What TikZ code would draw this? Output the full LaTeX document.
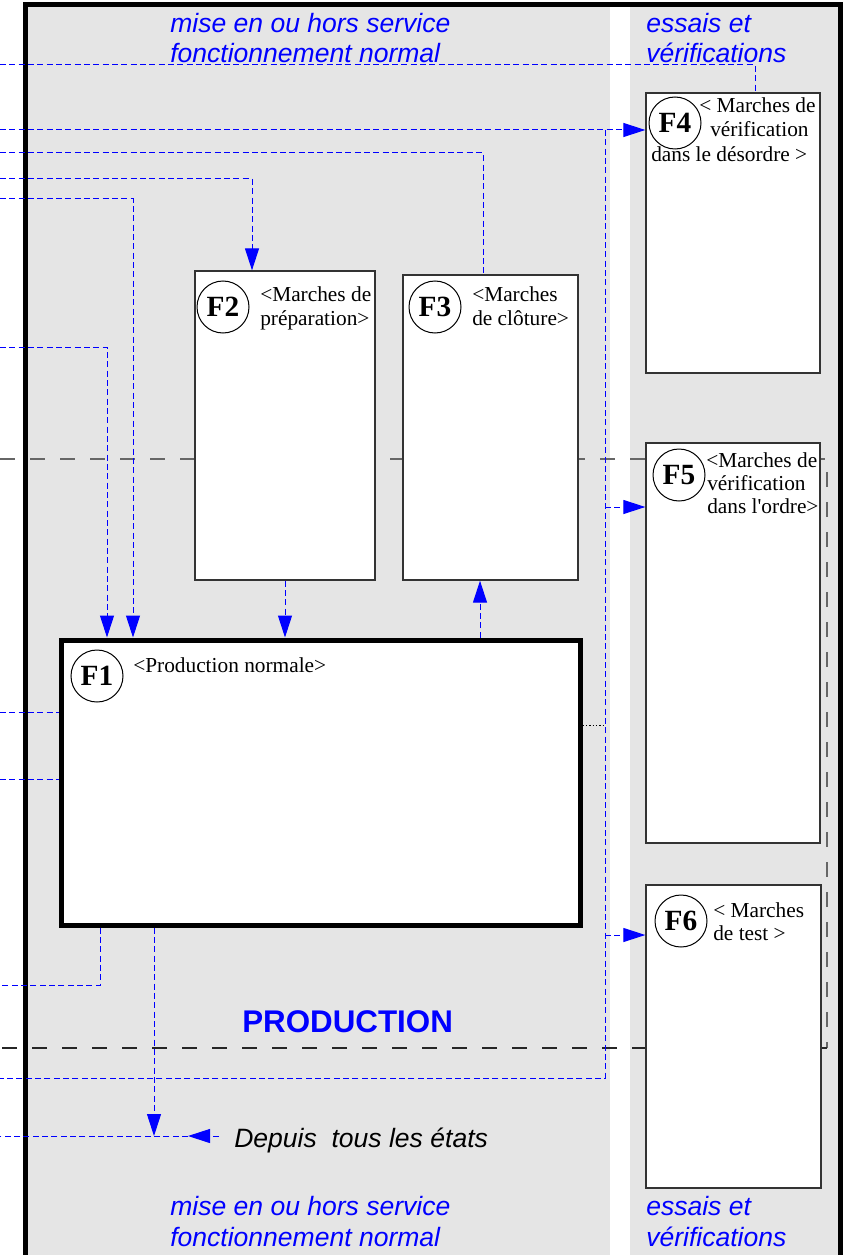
\documentclass[tikz,border=0pt]{standalone}
\usepackage{fontspec}
\setmainfont{Liberation Serif}
\newfontfamily\arialfont{Liberation Sans}
\usetikzlibrary{arrows.meta}

\definecolor{zonegray}{HTML}{E5E5E5}
\definecolor{boxline}{HTML}{333333}

\begin{document}
\begin{tikzpicture}[x=0.75pt, y=-0.75pt,
    fbox/.style={draw=boxline, line width=1pt, fill=white, inner sep=0pt},
    fnum/.style={draw, circle, line width=0.75pt, fill=white, minimum size=39pt, inner sep=0pt, font=\fontsize{22}{22}\selectfont\bfseries},
    fdesc/.style={anchor=base west, inner sep=0pt, font=\fontsize{16}{18}\selectfont},
    zonetitle/.style={anchor=base west, inner sep=0pt, text=blue, font=\arialfont\fontsize{19.9}{22}\selectfont\itshape},
    link/.style={blue, line width=0.75pt, dash pattern=on 4.5pt off 2.5pt},
    dotlink/.style={black, line width=0.75pt, dash pattern=on 1pt off 1.5pt},
    tip/.style={-{Triangle[length=16.5pt, width=10.5pt]}},
    sep/.style={line width=1.5pt, dash pattern=on 11.25pt off 11.25pt}]
        \useasboundingbox (0,0) rectangle (843,1255);
        \clip (0,0) rectangle (843,1255);

        % Zones
        \fill[zonegray] (28,7) rectangle (610,1262);
        \fill[zonegray] (630,7) rectangle (838,1262);
        \draw[line width=3.75pt] (25.5,1270) -- (25.5,5) -- (840.5,5) -- (840.5,1270);

        \node[zonetitle] (mstop1) at (170,33) {mise en ou hors service};
        \node[zonetitle] (mstop2) at (170,63) {fonctionnement normal};
        \node[zonetitle] (evtop1) at (646,33) {essais et};
        \node[zonetitle] (evtop2) at (646,63) {vérifications};
        \node[zonetitle] (msbot1) at (170,1215) {mise en ou hors service};
        \node[zonetitle] (msbot2) at (170,1246) {fonctionnement normal};
        \node[zonetitle] (evbot1) at (646,1215) {essais et};
        \node[zonetitle] (evbot2) at (646,1246) {vérifications};
        \node[zonetitle, font=\arialfont\fontsize{23.5}{26}\selectfont\bfseries] (prod) at (242,1032) {PRODUCTION};
        \node[zonetitle, text=black, inner xsep=11.25pt] (depuis) at (219,1147) {Depuis~~tous les états};

        % Separators
        \coordinate (sepA) at (0,459);
        \coordinate (sepB) at (0,1048);
        \draw[sep, black!60] (sepA) -| (sepB -| 827,0);
        \draw[sep, black!85] (sepB -| 827,0) -- (sepB);

        % States
        \node[fbox, line width=3.75pt, draw=black, minimum width=389.25pt, minimum height=213.75pt] (f1) at (320.5,782.5) {};
        \node[fbox, minimum width=135pt, minimum height=231.75pt] (f2) at (285,425.5) {};
        \node[fbox, minimum width=131.25pt, minimum height=228.75pt] (f3) at (490.5,427.5) {};
        \node[fbox, minimum width=130.5pt, minimum height=210pt] (f4) at (733,233) {};
        \node[fbox, minimum width=130.5pt, minimum height=300pt] (f5) at (733,643) {};
        \node[fbox, minimum width=131.25pt, minimum height=227.25pt] (f6) at (733.5,1036.5) {};

        \node[fnum] (n1) at (97,676) {F1};
        \node[fnum] (n2) at (223,307) {F2};
        \node[fnum] (n3) at (435,307) {F3};
        \node[fnum] (n4) at (675,123) {F4};
        \node[fnum] (n5) at (679,475) {F5};
        \node[fnum] (n6) at (681,921) {F6};

        \node[fdesc] (d1) at (133,672) {<Production normale>};
        \node[fdesc] (d2a) at (260,301) {<Marches de};
        \node[fdesc] (d2b) at (260,325) {préparation>};
        \node[fdesc] (d3a) at (472,301) {<Marches};
        \node[fdesc] (d3b) at (472,325) {de clôture>};
        \node[fdesc] (d4a) at (699,113) {< Marches de};
        \node[fdesc] (d4b) at (710,137) {vérification};
        \node[fdesc] (d4c) at (651,162) {dans le désordre >};
        \node[fdesc] (d5a) at (706,467) {<Marches de};
        \node[fdesc] (d5b) at (707,490) {vérification};
        \node[fdesc] (d5c) at (707,513) {dans l\textquotesingle ordre>};
        \node[fdesc] (d6a) at (713,917) {< Marches};
        \node[fdesc] (d6b) at (713,940) {de test >};

        % Transitions
        \coordinate (in1) at (0,65);
        \coordinate (in2) at (0,130);
        \coordinate (in3) at (0,153);
        \coordinate (in4) at (0,179);
        \coordinate (in5) at (0,199);
        \coordinate (in6) at (0,347);
        \coordinate (in7) at (0,712);
        \coordinate (in8) at (0,779);
        \coordinate (in9) at (0,985);
        \coordinate (in10) at (0,1078);
        \coordinate (in11) at (0,1136);
        \coordinate (bus) at (605,130);
        \coordinate (dtip) at (188,1136);

        \draw[link] (in1) -| (f4.north -| 755,0);
        \draw[link, tip] (in2) -- (f4.west |- in2);
        \draw[link] (bus) |- (in10);
        \draw[link, tip] (bus |- 0,507) -- (f5.west |- 0,507);
        \draw[link, tip] (bus |- 0,935) -- (f6.west |- 0,935);
        \draw[dotlink] (f1.east |- 0,725) -- (bus |- 0,725);
        \draw[link] (in3) -| (f3.north -| 483,0);
        \draw[link, tip] (in4) -| (f2.north -| 252,0);
        \draw[link, tip] (in5) -| (f1.north -| 133,0);
        \draw[link, tip] (in6) -| (f1.north -| 107,0);
        \draw[link, tip] (f2.south) -- (f1.north -| f2.south);
        \draw[link, tip] (f1.north -| 480,0) -- (f3.south -| 480,0);
        \draw[link] (in7) -- (in7 -| f1.west);
        \draw[link] (in8) -- (in8 -| f1.west);
        \draw[link] (f1.south -| 100,0) |- (in9);
        \draw[link, tip] (f1.south -| 154,0) -- (dtip -| 154,0);
        \draw[link, tip] (depuis.west |- dtip) -- (dtip);
        \draw[link] (dtip) -- (in11);
\end{tikzpicture}
\end{document}
